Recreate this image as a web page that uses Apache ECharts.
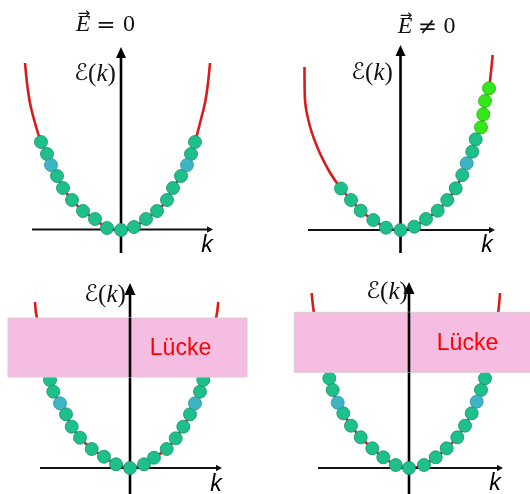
<!DOCTYPE html>
<html><head><meta charset="utf-8">
<script src="https://cdn.jsdelivr.net/npm/echarts@6/dist/echarts.min.js"></script>
<style>html,body{margin:0;padding:0;background:#fff}#c{width:530px;height:494px}</style>
</head><body><div id="c"></div>
<script>
// ---- Data (k, E), arbitrary units ----
// Panel 1: E = 0
const p1TailLeft  = [[-9.6,16.65],[-9.4,14.65],[-9.1,12.65],[-8.6,10.65]];
const p1Dots      = [[-8.0,8.75],[-7.4,7.55],[-6.4,5.35],[-5.8,4.15],[-4.9,2.95],[-3.8,1.85],[-2.6,1.05],[-1.4,0.15],[0,-0.05],[1.3,0.25],[2.5,1.05],[3.6,1.85],[4.6,2.95],[5.2,4.15],[6.0,5.35],[7.0,7.55],[7.4,8.75]];
const p1Cyan      = [[-7.0,6.45],[6.6,6.45]];
const p1Lime      = [];
const p1TailRight = [[7.9,10.65],[8.4,12.65],[8.7,14.65],[8.9,16.65]];

// Panel 2: E != 0
const p2TailLeft  = [[-9.6,16.3],[-9.55,13.0],[-9.05,10.35],[-8.2,8.0],[-7.2,6.0],[-6.4,4.75]];
const p2Dots      = [[-5.95,4.15],[-4.95,3.0],[-3.98,1.93],[-2.72,1.0],[-1.45,0.23],[0,0],[1.38,0.33],[2.55,1.1],[3.72,1.93],[4.68,3.0],[5.52,4.17],[6.18,5.5],[7.18,7.83],[7.52,9.07]];
const p2Cyan      = [[6.62,6.67]];
const p2Lime      = [[8.05,10.27],[8.28,11.57],[8.45,12.9],[8.85,14.17]];
const p2TailRight = [[9.05,15.83],[9.22,17.5]];

// Panel 3: gap, E = 0
const p3TailLeft  = [[-9.5,16.6],[-9.4,15.5],[-9.0,13.5],[-8.4,10.5]];
const p3Dots      = [[-8.0,8.8],[-7.67,7.63],[-6.4,5.37],[-5.83,4.13],[-5.0,3.03],[-3.83,1.9],[-2.6,1.13],[-1.4,0.37],[0,0],[1.4,0.37],[2.4,1.03],[3.67,1.9],[4.57,2.97],[5.33,4.13],[6.0,5.37],[7.0,7.63],[7.33,8.8]];
const p3Cyan      = [[-7.0,6.47],[6.5,6.47]];
const p3Lime      = [];
const p3TailRight = [[7.7,10.5],[8.3,13.5],[8.7,15.5],[8.83,16.6]];
const p3Gap       = [-12.2, 11.7, 9.1, 15.0];   // kMin, kMax, E low, E high
const p3GapLabel  = [5.05, 11.9];

// Panel 4: gap, E != 0
const p4TailLeft  = [[-9.73,17.5],[-9.55,15.8],[-9.1,13.5],[-8.4,10.5]];
const p4Dots      = [[-7.97,8.97],[-7.63,7.8],[-6.57,5.47],[-5.8,4.23],[-4.83,3.07],[-3.67,1.97],[-2.57,1.07],[-1.33,0.3],[0,0],[1.5,0.3],[2.67,1.07],[3.77,1.97],[4.83,3.07],[5.6,4.23],[6.27,5.47],[7.2,7.8],[7.6,8.97]];
const p4Cyan      = [[-7.13,6.53],[6.77,6.63]];
const p4Lime      = [];
const p4TailRight = [[8.0,10.5],[8.6,13.5],[8.95,15.8],[9.1,17.5]];
const p4Gap       = [-11.47, 13.0, 9.57, 15.57];
const p4GapLabel  = [5.85, 12.47];

const gapText = 'Lücke';
const relations = ['=', '\u2260'];

// ---- Layout ----
// axes: [kStart, kTip] along E=0 and [EStart, ETip] along k=0
const panels = [
  {tl:p1TailLeft, dots:p1Dots, cyan:p1Cyan, lime:p1Lime, tr:p1TailRight, gap:null,
   grid:{left:0, top:0, width:265, height:253}, x:[-12.1,14.4], y:[-2.35,22.95],
   hAxis:[-8.9,9.2], vAxis:[-2.35,18.25], head:[11,5]},
  {tl:p2TailLeft, dots:p2Dots, cyan:p2Cyan, lime:p2Lime, tr:p2TailRight, gap:null,
   grid:{left:265, top:0, width:265, height:253}, x:[-13.55,12.95], y:[-2.3,23.0],
   hAxis:[-9.25,9.45], vAxis:[-2.3,18.5], head:[11,5]},
  {tl:p3TailLeft, dots:p3Dots, cyan:p3Cyan, lime:p3Lime, tr:p3TailRight, gap:p3Gap, gl:p3GapLabel,
   grid:{left:0, top:256, width:265, height:238}, x:[-13.0,13.5], y:[-2.6,21.2],
   hAxis:[-9.0,9.2], vAxis:[-2.6,18.5], head:[12,5.5]},
  {tl:p4TailLeft, dots:p4Dots, cyan:p4Cyan, lime:p4Lime, tr:p4TailRight, gap:p4Gap, gl:p4GapLabel,
   grid:{left:265, top:256, width:265, height:238}, x:[-14.4,12.1], y:[-2.6,21.2],
   hAxis:[-9.1,9.4], vAxis:[-2.6,18.6], head:[12,5.5]}
];

const grid = [], xAxis = [], yAxis = [], series = [];
panels.forEach((p, i) => {
  grid.push(p.grid);
  const hidden = {type:'value', show:false, axisLine:{show:false}, axisTick:{show:false}, axisLabel:{show:false}, splitLine:{show:false}};
  xAxis.push(Object.assign({}, hidden, {gridIndex:i, min:p.x[0], max:p.x[1]}));
  yAxis.push(Object.assign({}, hidden, {gridIndex:i, min:p.y[0], max:p.y[1]}));

  const allDots = p.dots.concat(p.cyan, p.lime).sort((a,b)=>a[0]-b[0]);
  const curve = p.tl.concat(allDots, p.tr);
  series.push({type:'line', xAxisIndex:i, yAxisIndex:i, data:curve, showSymbol:false, smooth:0.25, clip:false,
    lineStyle:{color:'#d81c1c', width:2.6}, z:2, silent:true});

  // coordinate axes with arrow heads
  series.push({type:'custom', xAxisIndex:i, yAxisIndex:i, clip:false, z:3, silent:true,
    data:[p.hAxis.concat(p.vAxis)], encode:{x:[0,1], y:[2,3]},
    renderItem:(params, api) => {
      const h0 = api.coord([api.value(0), 0]), h1 = api.coord([api.value(1), 0]);
      const v0 = api.coord([0, api.value(2)]), v1 = api.coord([0, api.value(3)]);
      const hl = 6, hw = 3.2, vl = p.head[0], vw = p.head[1];
      return {type:'group', children:[
        {type:'line', shape:{x1:h0[0], y1:h0[1], x2:h1[0]-hl+1, y2:h1[1]}, style:{stroke:'#111', lineWidth:2.2}},
        {type:'polygon', shape:{points:[[h1[0],h1[1]],[h1[0]-hl,h1[1]-hw],[h1[0]-hl,h1[1]+hw]]}, style:{fill:'#111'}},
        {type:'line', shape:{x1:v0[0], y1:v0[1], x2:v1[0], y2:v1[1]+vl-1}, style:{stroke:'#000', lineWidth:2.6}},
        {type:'polygon', shape:{points:[[v1[0],v1[1]],[v1[0]-vw,v1[1]+vl],[v1[0]+vw,v1[1]+vl]]}, style:{fill:'#000'}}
      ]};
    }});

  const dotStyle = (c, b) => ({color:c, borderColor:b, borderWidth:0.8, opacity:1});
  series.push({type:'scatter', xAxisIndex:i, yAxisIndex:i, data:p.dots, symbolSize:13, clip:false, z:4,
    itemStyle:dotStyle('#1dbf8a','#169068')});
  series.push({type:'scatter', xAxisIndex:i, yAxisIndex:i, data:p.cyan, symbolSize:13, clip:false, z:4,
    itemStyle:dotStyle('#3db5c4','#2a919e')});
  if (p.lime.length) series.push({type:'scatter', xAxisIndex:i, yAxisIndex:i, data:p.lime, symbolSize:13, clip:false, z:4,
    itemStyle:dotStyle('#35e619','#25b010')});

  if (p.gap) {
    series.push({type:'custom', xAxisIndex:i, yAxisIndex:i, clip:false, z:6, silent:true,
      data:[p.gap.concat(p.gl)],
      encode:{x:[0,1,4], y:[2,3,5]},
      renderItem:(params, api) => {
        const a = api.coord([api.value(0), api.value(3)]);
        const b = api.coord([api.value(1), api.value(2)]);
        const s0 = api.coord([0, api.value(3)]), s1 = api.coord([0, api.value(2)]);
        const t = api.coord([api.value(4), api.value(5)]);
        return {type:'group', children:[
          {type:'rect', shape:{x:a[0], y:a[1], width:b[0]-a[0], height:b[1]-a[1]},
           style:{fill:'#f5bde1', stroke:'#dcc9d4', lineWidth:1}},
          {type:'line', shape:{x1:s0[0], y1:s0[1], x2:s1[0], y2:s1[1]}, style:{stroke:'#000', lineWidth:2.6}},
          {type:'text', x:t[0], y:t[1], style:{text:gapText, fill:'#ff0000', font:'23px "Liberation Sans", Arial, sans-serif',
            align:'center', verticalAlign:'middle', textAlign:'center', textVerticalAlign:'middle'}}
        ]};
      }});
  }
});

// ---- Text labels ----
const serif = '"Liberation Serif", "DejaVu Serif", serif';
function eLabel(x, y) {
  return {type:'text', x:x, y:y, z:10, style:{
    text:'{s|\u2130}{p|(}{k|k}{p|)}', align:'center', verticalAlign:'middle',
    rich:{s:{font:'23px "DejaVu Sans"', fill:'#111'}, p:{font:'25px ' + serif, fill:'#111'}, k:{font:'italic 25px ' + serif, fill:'#111'}}
  }};
}
function kLabel(x, y) {
  return {type:'text', x:x, y:y, z:10, style:{text:'k', font:'italic 23px "Liberation Sans", Arial, sans-serif',
    fill:'#000', align:'center', verticalAlign:'middle'}};
}
function titleParts(ex, my, rel, relx, zx) {
  return [
    {type:'text', x:ex, y:my, z:10, style:{text:'E', font:'italic 24px ' + serif, fill:'#111', align:'center', verticalAlign:'middle'}},
    {type:'text', x:ex + 1, y:my - 11, z:10, style:{text:'\u2192', font:'15px "DejaVu Sans"', fill:'#111', align:'center', verticalAlign:'middle'}},
    {type:'text', x:relx, y:my + 1, z:10, style:{text:rel, font:'23px "DejaVu Serif"', fill:'#111', align:'center', verticalAlign:'middle'}},
    {type:'text', x:zx, y:my, z:10, style:{text:'0', font:'24px ' + serif, fill:'#111', align:'center', verticalAlign:'middle'}}
  ];
}

const graphic = [].concat(
  titleParts(83, 25, relations[0], 106, 129),
  titleParts(405, 27, relations[1], 427.5, 449.5),
  [eLabel(95, 74), eLabel(372, 73), eLabel(105, 295), eLabel(387, 292),
   kLabel(207, 246), kLabel(487, 246), kLabel(216, 485), kLabel(495, 484)]
);

const chart = echarts.init(document.getElementById('c'), null, {renderer:'canvas'});
chart.setOption({animation:false, backgroundColor:'#fff', grid, xAxis, yAxis, series, graphic});
</script></body></html>
